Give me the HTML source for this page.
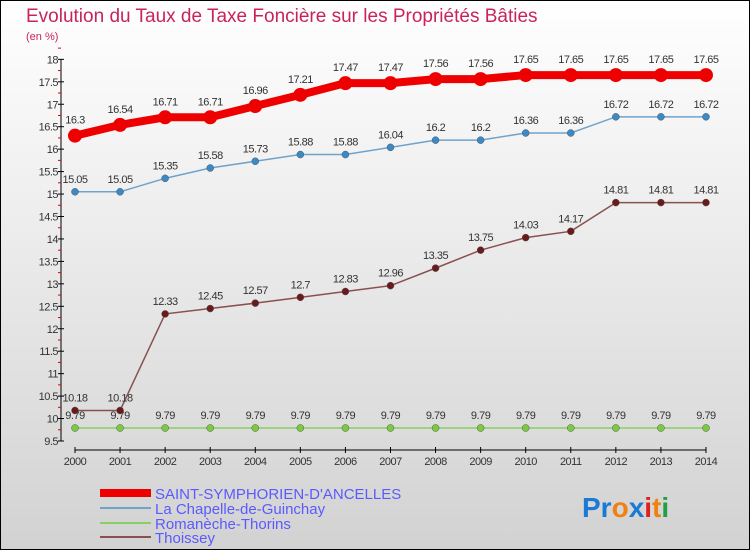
<!DOCTYPE html>
<html><head><meta charset="utf-8"><style>
body{margin:0;width:750px;height:550px;overflow:hidden;font-family:"Liberation Sans",sans-serif}
svg{display:block}
</style></head><body>
<svg id="c" width="750" height="550" xmlns="http://www.w3.org/2000/svg">
<defs><linearGradient id="bg" x1="0" y1="0" x2="0" y2="1"><stop offset="0" stop-color="#ffffff"/><stop offset="1" stop-color="#d2d2d2"/></linearGradient></defs>
<rect x="0.5" y="0.5" width="749" height="549" fill="url(#bg)" stroke="#000"/>
<text x="26" y="22" font-size="19" fill="#c8245a">Evolution du Taux de Taxe Foncière sur les Propriétés Bâties</text>
<text x="26" y="40" font-size="11" fill="#c8245a">(en %)</text>
<g id="axes"></g><g id="series"></g>
<g>
<rect x="100" y="489" width="51" height="8" fill="#ee0000"/>
<text x="155" y="499" font-size="15" fill="#5a5aff">SAINT-SYMPHORIEN-D'ANCELLES</text>
<line x1="100" y1="508" x2="151" y2="508" stroke="#6fa3cc" stroke-width="2"/>
<text x="155" y="514" font-size="15" fill="#5a5aff">La Chapelle-de-Guinchay</text>
<line x1="100" y1="523" x2="151" y2="523" stroke="#88d060" stroke-width="2"/>
<text x="155" y="529" font-size="15" fill="#5a5aff">Romanèche-Thorins</text>
<line x1="100" y1="537" x2="151" y2="537" stroke="#8a5050" stroke-width="2"/>
<text x="155" y="543" font-size="15" fill="#5a5aff">Thoissey</text>
</g>
<text x="582" y="517" font-size="28" font-weight="bold"><tspan fill="#1a7ad4">Pr</tspan><tspan fill="#f08010">o</tspan><tspan fill="#1a7ad4">x</tspan><tspan fill="#e02020">i</tspan><tspan fill="#f08010">t</tspan><tspan fill="#20a040">i</tspan></text>
</svg>
<script>
const years=[2000,2001,2002,2003,2004,2005,2006,2007,2008,2009,2010,2011,2012,2013,2014];
const yTicks=[9.5,10,10.5,11,11.5,12,12.5,13,13.5,14,14.5,15,15.5,16,16.5,17,17.5,18];
const saint=[16.3,16.54,16.71,16.71,16.96,17.21,17.47,17.47,17.56,17.56,17.65,17.65,17.65,17.65,17.65];
const chapelle=[15.05,15.05,15.35,15.58,15.73,15.88,15.88,16.04,16.2,16.2,16.36,16.36,16.72,16.72,16.72];
const romaneche=[9.79,9.79,9.79,9.79,9.79,9.79,9.79,9.79,9.79,9.79,9.79,9.79,9.79,9.79,9.79];
const thoissey=[10.18,10.18,12.33,12.45,12.57,12.7,12.83,12.96,13.35,13.75,14.03,14.17,14.81,14.81,14.81];
const NS="http://www.w3.org/2000/svg";
const X=i=>75+i*45.07, Y=v=>441-(v-9.5)*44.9;
function mk(p,t,a){const e=document.createElementNS(NS,t);for(const k in a)e.setAttribute(k,a[k]);p.appendChild(e);return e;}
const ax=document.getElementById('axes'),sg=document.getElementById('series');
const yl=mk(ax,'line',{x1:61,y1:Y(18),x2:61,y2:Y(9.5),stroke:'#000'});


yTicks.forEach(v=>{
 mk(ax,'line',{x1:58,y1:Y(v),x2:64,y2:Y(v),stroke:'#000'});
 mk(ax,'line',{x1:58,y1:Y(v+0.25),x2:61,y2:Y(v+0.25),stroke:'#e00000'});
 const t=mk(ax,'text',{x:58,y:Y(v)+4,'font-size':11,'text-anchor':'end',fill:'#333','letter-spacing':'-0.5'});
 t.textContent=String(v);
 
 
});
const xl=mk(ax,'line',{x1:75,y1:450,x2:X(14),y2:450,stroke:'#000'});


years.forEach((y,i)=>{
 mk(ax,'line',{x1:X(i),y1:447,x2:X(i),y2:453,stroke:'#000'});
 const t=mk(ax,'text',{x:X(i),y:465,'font-size':11,'text-anchor':'middle',fill:'#333','letter-spacing':'-0.5'});
 t.textContent=String(y);
 
 
});
function series(vals,color,w,r,name,dot){
 const g=mk(sg,'g',{});
 
 
 mk(g,'polyline',{points:vals.map((v,i)=>X(i)+','+Y(v)).join(' '),fill:'none',stroke:color,'stroke-width':w});
 vals.forEach((v,i)=>{
  const c=mk(g,'circle',{cx:X(i),cy:Y(v),r:r,fill:dot,stroke:'#555','stroke-width':r>5?0:0.5});
  
  
  const t=mk(g,'text',{x:X(i),y:Y(v)-(r>5?12:9),'font-size':11,'text-anchor':'middle',fill:'#333','letter-spacing':'-0.5'});
  t.textContent=String(v);
  
  
 });
}
series(romaneche,'#88d060',1.5,3.5,'romaneche','#7acc3c');
series(thoissey,'#8a5050',1.5,3.5,'thoissey','#6a1a1a');
series(chapelle,'#6fa3cc',1.5,3.5,'chapelle','#3a8ac8');
series(saint,'#ee0000',8,7,'saint-symphorien','#ee0000');
</script>
</body></html>
